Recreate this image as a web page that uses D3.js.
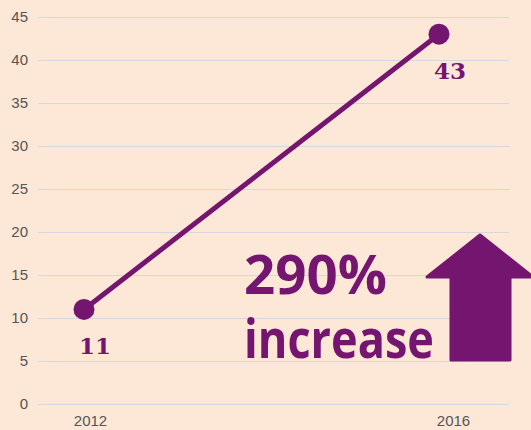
<!DOCTYPE html>
<html>
<head>
<meta charset="utf-8">
<script src="https://cdn.jsdelivr.net/npm/d3@7"></script>
<style>
  body { margin: 0; background: #fde7d6; }
  svg { display: block; }
</style>
</head>
<body>
<div id="chart"></div>
<script>
const years = [2012, 2016];
const values = [11, 43];
const yTicks = [0, 5, 10, 15, 20, 25, 30, 35, 40, 45];

const width = 531, height = 430;
const purple = "#74166f";

const svg = d3.select("#chart")
  .append("svg")
    .attr("width", width)
    .attr("height", height);

svg.append("rect")
  .attr("width", width)
  .attr("height", height)
  .attr("fill", "#fde7d6");

const yScale = d3.scaleLinear().domain([0, 45]).range([404, 17]);
const xScale = d3.scaleLinear().domain([2012, 2016]).range([84, 439]);
const xLabelScale = d3.scalePoint().domain(years).range([90, 453]);

// gridlines + y labels
const yAxis = svg.append("g")
  .attr("transform", "translate(38,0)")
  .call(d3.axisLeft(yScale).tickValues(yTicks).tickSize(-471).tickPadding(10));
yAxis.select(".domain").remove();
yAxis.selectAll(".tick line").attr("stroke", "#d5d7dd").attr("stroke-width", 1);
yAxis.selectAll(".tick text")
  .attr("fill", "#555")
  .style("font-family", "Liberation Sans, Arial, sans-serif")
  .style("font-size", "15px");

// x labels
const xAxis = svg.append("g")
  .attr("transform", "translate(0,404)")
  .call(d3.axisBottom(xLabelScale).tickSize(0).tickPadding(11));
xAxis.select(".domain").remove();
xAxis.selectAll(".tick text")
  .attr("fill", "#555")
  .style("font-family", "Liberation Sans, Arial, sans-serif")
  .style("font-size", "15px");

const data = years.map((y, i) => ({year: y, value: values[i]}));

// line
svg.append("path")
  .datum(data)
  .attr("d", d3.line().x(d => xScale(d.year)).y(d => yScale(d.value)))
  .attr("fill", "none")
  .attr("stroke", purple)
  .attr("stroke-width", 5);

svg.selectAll(".dot")
  .data(data)
  .join("circle")
    .attr("class", "dot")
    .attr("cx", d => xScale(d.year))
    .attr("cy", d => yScale(d.value))
    .attr("r", 10.5)
    .attr("fill", purple);

svg.selectAll(".val")
  .data(data)
  .join("text")
    .attr("class", "val")
    .attr("x", d => xScale(d.year) + 11)
    .attr("y", d => yScale(d.value) + 45)
    .attr("text-anchor", "middle")
    .attr("fill", purple)
    .style("font-family", "DejaVu Serif, serif")
    .style("font-weight", "bold")
    .style("font-size", "23px")
    .text(d => d.value);

// annotation
const pct = Math.floor((values[1] - values[0]) / values[0] * 100);
const note = svg.append("g")
  .attr("fill", purple)
  .style("font-family", "Open Sans, sans-serif")
  .style("font-weight", "bold")
  .style("font-size", "54px");
note.append("text").attr("x", 244).attr("y", 294)
  .attr("textLength", 143).attr("lengthAdjust", "spacingAndGlyphs")
  .text(pct + "%");
note.append("text").attr("x", 244).attr("y", 358)
  .attr("textLength", 190).attr("lengthAdjust", "spacingAndGlyphs")
  .text("increase");

// arrow
const ax = xScale(2016) + 41;
const arrow = d3.path();
arrow.moveTo(ax, 235);
arrow.lineTo(ax + 53, 277);
arrow.lineTo(ax + 30, 277);
arrow.lineTo(ax + 30, 360);
arrow.lineTo(ax - 29, 360);
arrow.lineTo(ax - 29, 277);
arrow.lineTo(ax - 53, 277);
arrow.closePath();
svg.append("path")
  .attr("d", arrow.toString())
  .attr("fill", purple)
  .attr("stroke", purple)
  .attr("stroke-width", 3)
  .attr("stroke-linejoin", "round");
</script>
</body>
</html>
